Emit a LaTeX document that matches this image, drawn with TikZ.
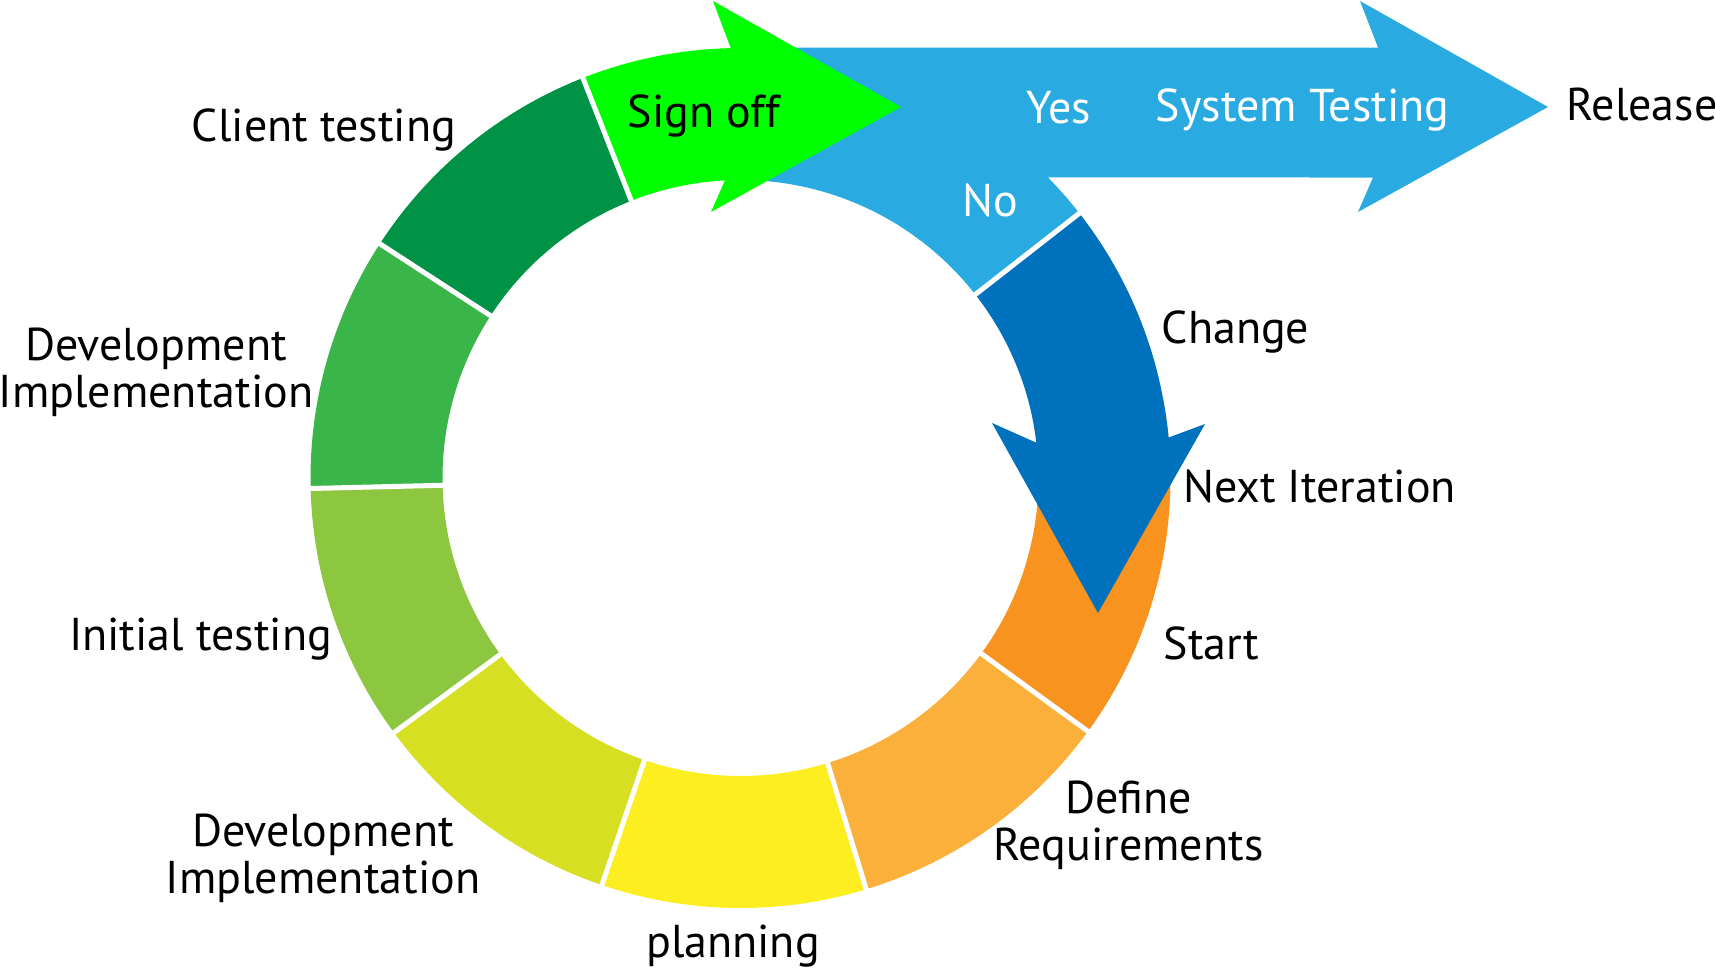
\documentclass[tikz,border=0pt]{standalone}
\usepackage{fontspec}
\setmainfont{PT Sans}
\usetikzlibrary{calc}
\definecolor{signoffc}{RGB}{0,255,0}
\definecolor{clientc}{RGB}{0,146,69}
\definecolor{devc}{RGB}{57,181,74}
\definecolor{initc}{RGB}{141,198,63}
\definecolor{devtwoc}{RGB}{215,223,35}
\definecolor{planc}{RGB}{252,238,33}
\definecolor{defc}{RGB}{251,176,59}
\definecolor{startc}{RGB}{247,147,30}
\definecolor{lblue}{RGB}{41,171,226}
\definecolor{dblue}{RGB}{0,113,188}
\newcommand\Ro{430}
\newcommand\Ri{298}
\newcommand\ringseg[3]{%
  \fill[#1] ($(C)+(#2:\Ro)$) arc[start angle=#2, end angle=#3, radius=\Ro]
    -- ($(C)+(#3:\Ri)$) arc[start angle=#3, end angle=#2, radius=\Ri] -- cycle;}
\tikzset{
  lbl/.style={font=\fontsize{46}{46}\selectfont, inner sep=0pt, anchor=base, text=black},
  wlbl/.style={lbl, text=white},
  gap/.style={white, line width=5pt}
}
\begin{document}
\begin{tikzpicture}[x=1pt,y=1pt]
\useasboundingbox (0,0) rectangle (1715,-969);
\coordinate (C) at (740.5,-478);
% ring segments
\ringseg{clientc}{111.5}{147}
\ringseg{devc}{147}{181.4}
\ringseg{initc}{181.4}{216.3}
\ringseg{devtwoc}{216.3}{251.2}
\ringseg{planc}{251.2}{287}
\ringseg{defc}{287}{323.9}
\ringseg{startc}{323.9}{370}
% light blue band, arrow and No part
\fill[lblue] (740.5,-47.5) -- (1378,-47.5) -- (1360,-1) -- (1548,-107) -- (1358,-212) -- (1373,-177.5)
  -- ($(C)+(44.34:\Ro)$) arc[start angle=44.34, end angle=38, radius=\Ro]
  -- ($(C)+(38:\Ri)$) arc[start angle=38, end angle=90, radius=\Ri] -- cycle;
% green sign off arrow
\fill[signoffc] ($(C)+(111.5:\Ro)$) arc[start angle=111.5, end angle=91.3, radius=\Ro]
  -- (713,-1) -- (901,-107) -- (711,-212)
  -- ($(C)+(93:\Ri)$) arc[start angle=93, end angle=111.5, radius=\Ri] -- cycle;
% dark blue change arrow
\fill[dblue] ($(C)+(38:\Ro)$) arc[start angle=38, end angle=5.4, radius=\Ro]
  -- (1205,-424) -- (1098,-613) -- (992,-423)
  -- ($(C)+(6.8:\Ri)$) arc[start angle=6.8, end angle=38, radius=\Ri] -- cycle;
% white gaps
\foreach \a in {111.5,147,181.4,216.3,251.2,287,323.9,38}
  \draw[gap] ($(C)+(\a:294)$) -- ($(C)+(\a:434)$);
% labels
\node[lbl] (client) at (324,-141) {Client testing};
\node[lbl] (signoff) at (704,-127) {Sign off};
\node[wlbl] (yes) at (1059,-123) {Yes};
\node[wlbl] (no) at (990,-216) {No};
\node[wlbl] (systest) at (1302.5,-121) {System Testing};
\node[lbl] (release) at (1642,-120) {Release};
\node[lbl] (change) at (1235.5,-343) {Change};
\node[lbl] (next) at (1319.5,-502) {Next Iteration};
\node[lbl] (start) at (1211.5,-659) {Start};
\node[lbl] (define) at (1128.5,-860) {\begin{tabular}[b]{@{}c@{}}Define\\Requirements\end{tabular}};
\node[lbl] (plan) at (733,-957) {planning};
\node[lbl] (devtwo) at (323,-893) {\begin{tabular}[b]{@{}c@{}}Development\\Implementation\end{tabular}};
\node[lbl] (init) at (200.5,-650) {Initial testing};
\node[lbl] (devone) at (156,-407) {\begin{tabular}[b]{@{}c@{}}Development\\Implementation\end{tabular}};
\end{tikzpicture}
\end{document}
